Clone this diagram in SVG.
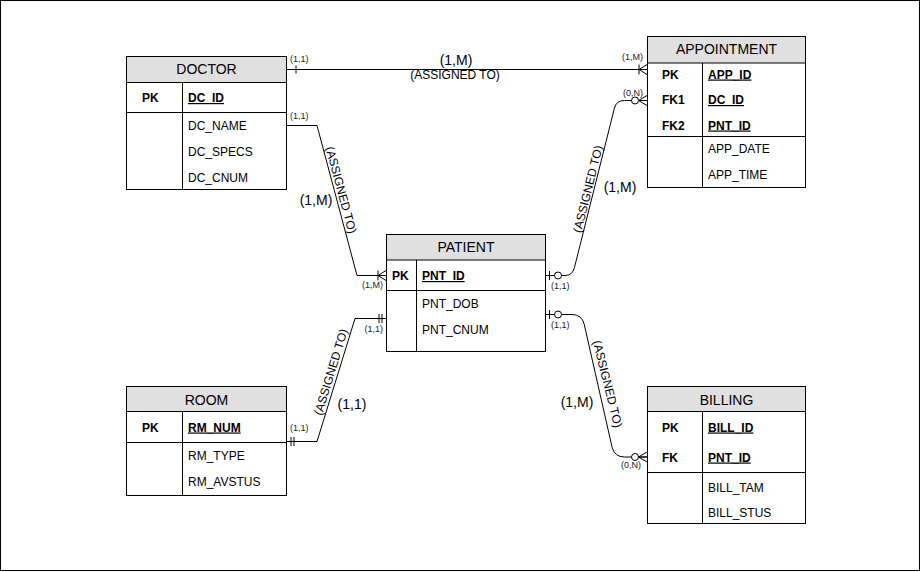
<svg xmlns="http://www.w3.org/2000/svg" width="921" height="572" viewBox="0 0 921 572">
<style>
text{font-family:"Liberation Sans",Arial,sans-serif;fill:#000}
.box{fill:#fff;stroke:#000;stroke-width:1}
.hd{fill:#e0e0e0;stroke:#000;stroke-width:1}
.ln{stroke:#000;stroke-width:1;fill:none}
.h{font-size:14px;text-anchor:middle}
.k{font-size:12px;font-weight:bold}
.u{font-size:12px;font-weight:bold;text-decoration:underline}
.a{font-size:12px}
.s{font-size:9px;fill:#222}
.m{font-size:14px;text-anchor:middle}
.r{font-size:12px;text-anchor:middle}
.e{fill:none;stroke:#000;stroke-width:1}
.mk{fill:none;stroke:#000;stroke-width:1}
.mc{fill:#fff;stroke:#000;stroke-width:1}
</style>
<defs>
<marker id="mOne" markerUnits="userSpaceOnUse" viewBox="-20 -10 20 20" refX="0" refY="0" markerWidth="20" markerHeight="20" orient="auto-start-reverse" overflow="visible">
<path class="mk" d="M-9,-4V4"/>
</marker>
<marker id="mOneMany" markerUnits="userSpaceOnUse" viewBox="-20 -10 20 20" refX="0" refY="0" markerWidth="20" markerHeight="20" orient="auto-start-reverse" overflow="visible">
<path class="mk" d="M-8,0L0,-5M-8,0L0,5M-8,-5V5"/>
</marker>
<marker id="mZeroMany" markerUnits="userSpaceOnUse" viewBox="-20 -10 20 20" refX="0" refY="0" markerWidth="20" markerHeight="20" orient="auto-start-reverse" overflow="visible">
<path class="mk" d="M-8.5,0L0,-5M-8.5,0L0,5M-8.5,0H0"/>
<circle class="mc" cx="-12" cy="0" r="3.5"/>
</marker>
<marker id="mZeroOne" markerUnits="userSpaceOnUse" viewBox="-20 -10 20 20" refX="0" refY="0" markerWidth="20" markerHeight="20" orient="auto-start-reverse" overflow="visible">
<path class="mk" d="M-3.5,-4.5V4.5"/>
<circle class="mc" cx="-12" cy="0" r="3.5"/>
</marker>
<marker id="mMandOne" markerUnits="userSpaceOnUse" viewBox="-20 -10 20 20" refX="0" refY="0" markerWidth="20" markerHeight="20" orient="auto-start-reverse" overflow="visible">
<path class="mk" d="M-4,-4.5V4.5M-7,-4.5V4.5"/>
</marker>
</defs>
<rect x="0.5" y="0.5" width="919" height="570" fill="#fff" stroke="#000"/>

<g id="connectors">
<path id="c-doctor-appointment" class="e" d="M287,69.5H647" marker-start="url(#mOne)" marker-end="url(#mOneMany)"/>
<path id="c-doctor-patient" class="e" d="M287,125.5H317L357,275.5H386" marker-end="url(#mOneMany)"/>
<path id="c-patient-appointment" class="e" d="M546,275.5H565Q572.5,275.5 574.4,267.7L614.4,108.3Q616.3,100.5 624.3,100.5H647" marker-start="url(#mZeroOne)" marker-end="url(#mZeroMany)"/>
<path id="c-patient-room" class="e" d="M386,318.5H355L317,441.5H287" marker-start="url(#mMandOne)" marker-end="url(#mMandOne)"/>
<path id="c-patient-billing" class="e" d="M546,314.5H572Q581.8,314.5 584.2,324.2L612.1,447.3Q614.5,457 624.5,457H647" marker-start="url(#mZeroOne)" marker-end="url(#mZeroMany)"/>

<text class="s" x="290" y="62">(1,1)</text>
<text class="m" x="456" y="65">(1,M)</text>
<text class="r" x="455" y="79">(ASSIGNED TO)</text>
<text class="s" x="643" y="60" text-anchor="end">(1,M)</text>

<text class="s" x="290" y="119">(1,1)</text>
<text class="s" x="383" y="288" text-anchor="end">(1,M)</text>
<text class="m" x="316" y="205">(1,M)</text>
<text class="r" transform="translate(341,190) rotate(75)" y="4">(ASSIGNED TO)</text>

<text class="s" x="643" y="95.5" text-anchor="end">(0,N)</text>
<text class="s" x="551" y="289">(1,1)</text>
<text class="m" x="620" y="192">(1,M)</text>
<text class="r" transform="translate(588,189) rotate(-76)" y="4">(ASSIGNED TO)</text>

<text class="s" x="383" y="332" text-anchor="end">(1,1)</text>
<text class="s" x="290" y="431">(1,1)</text>
<text class="m" x="352" y="409">(1,1)</text>
<text class="r" transform="translate(331,372) rotate(-73)" y="4">(ASSIGNED TO)</text>

<text class="s" x="551" y="328">(1,1)</text>
<text class="s" x="641" y="468" text-anchor="end">(0,N)</text>
<text class="m" x="577" y="407">(1,M)</text>
<text class="r" transform="translate(607.5,384) rotate(76)" y="4">(ASSIGNED TO)</text>
</g>

<g id="doctor">
<rect class="box" x="126.5" y="56.5" width="160" height="133"/>
<rect class="hd" x="126.5" y="56.5" width="160" height="26"/>
<path class="ln" d="M126.5,112.5H286.5M182.5,82.5V189.5"/>
<text class="h" x="206.5" y="74">DOCTOR</text>
<text class="k" x="142" y="102">PK</text>
<text class="u" x="188" y="102">DC_ID</text>
<text class="a" x="188" y="130">DC_NAME</text>
<text class="a" x="188" y="156">DC_SPECS</text>
<text class="a" x="188" y="182">DC_CNUM</text>
</g>

<g id="appointment">
<rect class="box" x="647.5" y="36.5" width="158" height="151"/>
<rect class="hd" x="647.5" y="36.5" width="158" height="26.5"/>
<path class="ln" d="M647.5,136.5H805.5M702.5,63V187.5"/>
<text class="h" x="726.5" y="53.5">APPOINTMENT</text>
<text class="k" x="662" y="78.5">PK</text>
<text class="u" x="708" y="78.5">APP_ID</text>
<text class="k" x="662" y="104">FK1</text>
<text class="u" x="708" y="104">DC_ID</text>
<text class="k" x="662" y="129.5">FK2</text>
<text class="u" x="708" y="129.5">PNT_ID</text>
<text class="a" x="708" y="153">APP_DATE</text>
<text class="a" x="708" y="179">APP_TIME</text>
</g>

<g id="patient">
<rect class="box" x="386.5" y="234.5" width="159" height="117"/>
<rect class="hd" x="386.5" y="234.5" width="159" height="25.5"/>
<path class="ln" d="M386.5,290.5H545.5M416.5,260V351.5"/>
<text class="h" x="466" y="251.5">PATIENT</text>
<text class="k" x="392" y="280">PK</text>
<text class="u" x="422" y="280">PNT_ID</text>
<text class="a" x="422" y="308">PNT_DOB</text>
<text class="a" x="422" y="334">PNT_CNUM</text>
</g>

<g id="room">
<rect class="box" x="126.5" y="386.5" width="160" height="109"/>
<rect class="hd" x="126.5" y="386.5" width="160" height="25"/>
<path class="ln" d="M126.5,442.5H286.5M182.5,411.5V495.5"/>
<text class="h" x="206.5" y="405">ROOM</text>
<text class="k" x="142" y="431.5">PK</text>
<text class="u" x="188" y="431.5">RM_NUM</text>
<text class="a" x="188" y="460">RM_TYPE</text>
<text class="a" x="188" y="486">RM_AVSTUS</text>
</g>

<g id="billing">
<rect class="box" x="647.5" y="386.5" width="158" height="137"/>
<rect class="hd" x="647.5" y="386.5" width="158" height="25"/>
<path class="ln" d="M647.5,472.5H805.5M702.5,411.5V523.5"/>
<text class="h" x="726.5" y="405">BILLING</text>
<text class="k" x="662" y="431.5">PK</text>
<text class="u" x="708" y="431.5">BILL_ID</text>
<text class="k" x="662" y="461.5">FK</text>
<text class="u" x="708" y="461.5">PNT_ID</text>
<text class="a" x="708" y="491.5">BILL_TAM</text>
<text class="a" x="708" y="516.5">BILL_STUS</text>
</g>
</svg>
